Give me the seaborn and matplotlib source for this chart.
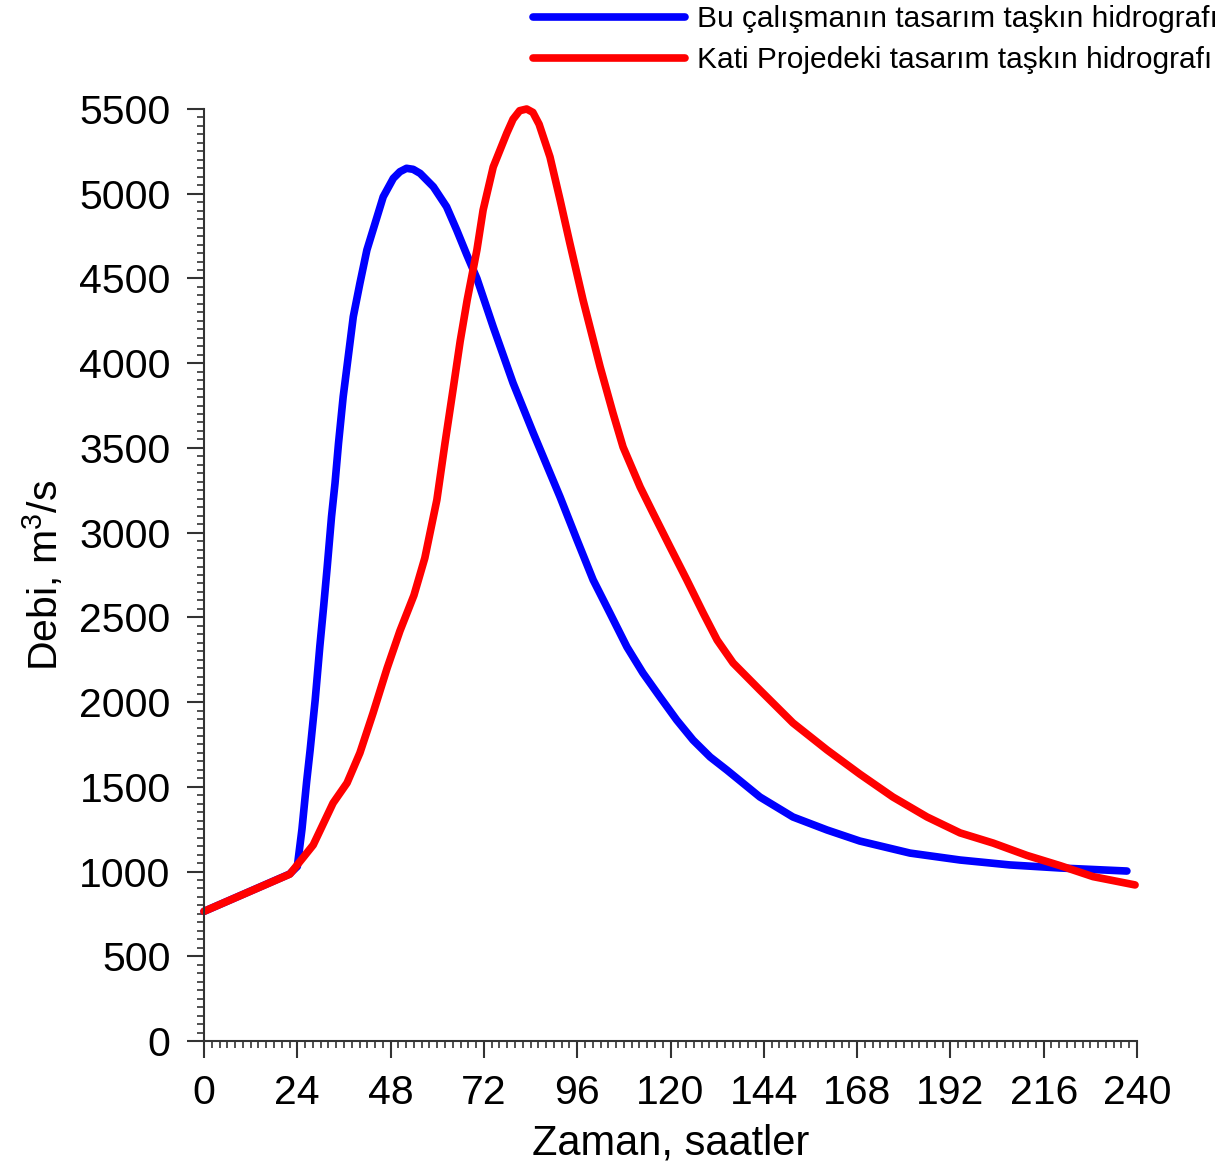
import matplotlib
matplotlib.use("Agg")
import matplotlib.pyplot as plt
from matplotlib.ticker import MultipleLocator
import numpy as np
import pandas as pd
import seaborn as sns

# Design flood hydrograph of this study (time in hours, discharge in m3/s)
bu_saat = [0, 22, 24, 25.2, 26.4, 27.3, 28.6, 29.8, 30.8, 31.7, 32.8, 33.7, 34.6,
           35.8, 37.1, 38.4, 40.1, 41.9, 44.0, 46.1, 48.7, 50.4, 52.1, 53.8, 55.6,
           59.0, 62.4, 65.0, 67.6, 70.2, 74.4, 79.5, 84.7, 91.6, 95.9, 100.1,
           104.4, 108.8, 112.9, 117.3, 121.6, 125.8, 130.2, 134.5, 143, 151.5,
           160.3, 168.7, 181.6, 194.5, 207.3, 220.2, 237.4]
bu_debi = [765, 985, 1030, 1250, 1530, 1717, 2012, 2330, 2570, 2799, 3094, 3291, 3527,
           3802, 4038, 4274, 4471, 4668, 4825, 4982, 5091, 5130, 5150, 5144, 5120,
           5041, 4923, 4786, 4640, 4500, 4214, 3883, 3588, 3210, 2960, 2721,
           2526, 2325, 2172, 2030, 1894, 1776, 1676, 1599, 1440, 1322,
           1245, 1180, 1109, 1068, 1039, 1021, 1003]

# Design flood hydrograph of the Kati project
kati_saat = [0, 22.1, 28.1, 33.2, 36.8, 40.1, 43.5, 47.1, 50.4, 54.0, 56.8, 59.9,
             62.0, 64.1, 65.9, 67.7, 70.2, 71.8, 74.4, 77.9, 79.5, 81.2, 83.0,
             84.6, 86.2, 89, 91.6, 94.1, 97.5, 101.9, 105.2, 107.8, 112.2, 115.5,
             119.9, 124.2, 128.4, 132, 136.1, 143, 151.5, 160.3, 168.7, 177.2, 186,
             194.5, 203, 211.7, 220.2, 228.7, 239.5]
kati_debi = [765, 985, 1157, 1404, 1523, 1700, 1936, 2200, 2420, 2630, 2850, 3193,
             3529, 3850, 4130, 4373, 4668, 4904, 5158, 5358, 5440, 5490, 5500,
             5480, 5410, 5217, 4963, 4709, 4373, 3978, 3706, 3505, 3269, 3116,
             2915, 2721, 2526, 2366, 2231, 2071, 1877, 1717, 1575, 1440, 1322,
             1228, 1168, 1095, 1035, 970, 921]

seri_adlari = ["Bu çalışmanın tasarım taşkın hidrografı",
               "Kati Projedeki tasarım taşkın hidrografı"]
renkler = ["#0000ff", "#ff0000"]

x_ticks = list(range(0, 241, 24))
y_ticks = list(range(0, 5501, 500))

df = pd.concat([
    pd.DataFrame({"saat": bu_saat, "debi": bu_debi, "seri": seri_adlari[0]}),
    pd.DataFrame({"saat": kati_saat, "debi": kati_debi, "seri": seri_adlari[1]}),
], ignore_index=True)

sns.set_theme(style="ticks")
plt.rcParams["font.family"] = ["Liberation Sans", "DejaVu Sans"]
plt.rcParams["mathtext.fontset"] = "custom"
plt.rcParams["mathtext.rm"] = "Liberation Sans"
plt.rcParams["mathtext.it"] = "Liberation Sans:italic"
plt.rcParams["mathtext.bf"] = "Liberation Sans:bold"

fig = plt.figure(figsize=(12.26, 11.68), dpi=100)
ax = fig.add_axes([204 / 1226, 1 - 1041 / 1168, 933 / 1226, 932 / 1168])

lw = 5.5
sns.lineplot(data=df, x="saat", y="debi", hue="seri", palette=renkler,
             hue_order=seri_adlari, estimator=None, sort=False,
             linewidth=lw, ax=ax)
for line in ax.lines:
    line.set_solid_capstyle("round")
    line.set_solid_joinstyle("round")
    line.set_clip_on(False)

ax.set_xlim(0, 240)
ax.set_ylim(0, 5500)
ax.set_xticks(x_ticks)
ax.set_yticks(y_ticks)
ax.xaxis.set_minor_locator(MultipleLocator(2))
ax.yaxis.set_minor_locator(MultipleLocator(50))

axis_color = "#333333"
for side in ["top", "right"]:
    ax.spines[side].set_visible(False)
for side in ["left", "bottom"]:
    ax.spines[side].set_color(axis_color)
    ax.spines[side].set_linewidth(1.5)

ax.tick_params(which="major", direction="out", length=12, width=1.5,
               color=axis_color, labelsize=29.5, labelcolor="black", pad=12)
ax.tick_params(which="minor", direction="out", length=5, width=1.2,
               color=axis_color)

ax.set_xlabel("Zaman, saatler", fontsize=30, labelpad=8, color="black")
ax.set_ylabel("Debi, m$^3$/s", fontsize=29.5, labelpad=10, color="black")

leg = ax.get_legend()
handles = leg.legend_handles
labels = [t.get_text() for t in leg.texts]
leg.remove()
new_leg = ax.legend(handles=handles, labels=labels, loc="upper right",
                    bbox_to_anchor=(1218 / 1226, 1 - 5 / 1168),
                    bbox_transform=fig.transFigure, frameon=False,
                    fontsize=21.5, handlelength=5.1, handletextpad=0.4,
                    labelspacing=0.45, borderpad=0, borderaxespad=0,
                    labelcolor="black")
for h in new_leg.legend_handles:
    h.set_linewidth(lw)
    h.set_solid_capstyle("round")

fig.savefig("out.png", dpi=100)
